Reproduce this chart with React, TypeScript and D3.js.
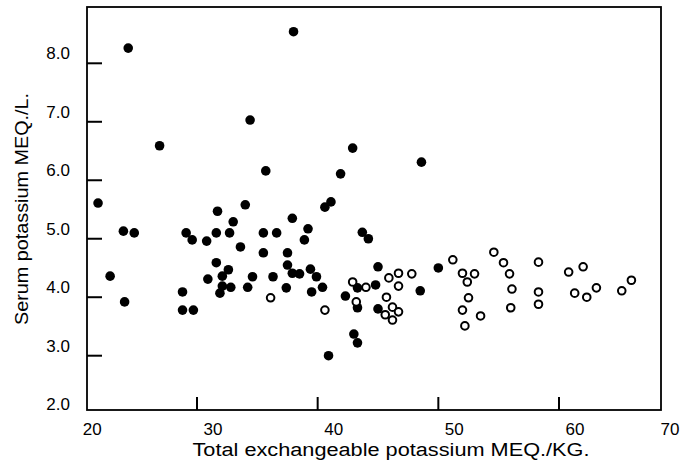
import React from "react";
import * as d3 from "d3";

// Filled circles: [total exchangeable K (MEQ/KG), serum K (MEQ/L)]
const filledX = [24.3, 38.0, 26.9, 34.4, 35.7, 41.9, 42.9, 48.6, 21.8, 41.1, 40.6, 34.0, 31.7, 37.9, 33.0, 39.2, 38.9, 23.9, 24.8, 29.1, 29.6, 30.8, 31.6, 32.7, 35.5, 36.6, 43.7, 44.2, 33.6, 35.5, 37.5, 31.6, 37.5, 32.6, 39.4, 45.0, 22.8, 30.9, 32.1, 34.6, 36.3, 37.9, 38.5, 39.9, 32.8, 34.2, 37.4, 40.4, 43.3, 44.8, 50.0, 48.5, 28.8, 31.9, 39.5, 42.3, 24.0, 28.8, 29.7, 43.3, 45.0, 43.0, 43.3, 40.9, 32.1];
const filledY = [8.26, 8.54, 6.59, 7.03, 6.16, 6.11, 6.55, 6.31, 5.61, 5.63, 5.54, 5.58, 5.47, 5.35, 5.29, 5.17, 4.98, 5.13, 5.10, 5.10, 4.98, 4.96, 5.10, 5.10, 5.10, 5.10, 5.11, 5.00, 4.86, 4.76, 4.76, 4.59, 4.55, 4.47, 4.48, 4.52, 4.36, 4.31, 4.36, 4.35, 4.35, 4.41, 4.40, 4.35, 4.17, 4.17, 4.16, 4.17, 4.16, 4.21, 4.50, 4.11, 4.09, 4.07, 4.09, 4.02, 3.92, 3.78, 3.78, 3.82, 3.80, 3.37, 3.22, 3.00, 4.19];

// Open circles
const openX = [36.1, 40.6, 42.9, 44.0, 43.2, 45.9, 46.7, 47.8, 46.7, 45.7, 46.2, 46.7, 45.6, 46.2, 51.2, 52.0, 53.0, 52.4, 52.5, 52.0, 53.5, 52.2, 54.6, 55.4, 55.9, 56.1, 56.0, 58.3, 58.3, 58.3, 60.8, 62.0, 61.3, 62.3, 63.1, 65.2, 66.0];
const openY = [3.99, 3.78, 4.26, 4.17, 3.92, 4.33, 4.41, 4.40, 4.19, 4.00, 3.83, 3.75, 3.70, 3.61, 4.64, 4.41, 4.40, 4.26, 3.99, 3.78, 3.68, 3.51, 4.77, 4.59, 4.40, 4.14, 3.82, 4.60, 4.09, 3.88, 4.43, 4.52, 4.07, 4.00, 4.16, 4.11, 4.29];

const xTickValues = [30, 40, 50, 60];
const xTickLabels = ["20", "30", "40", "50", "60", "70"];
const xLabelValues = [20, 30, 40, 50, 60, 70];
const yTickValues = [3, 4, 5, 6, 7, 8];
const yLabelValues = [2, 3, 4, 5, 6, 7, 8];
const yTickLabels = ["2.0", "3.0", "4.0", "5.0", "6.0", "7.0", "8.0"];

const xTitle = "Total exchangeable potassium MEQ./KG.";
const yTitle = "Serum potassium MEQ./L.";

export default function App() {
  const W = 681;
  const H = 467;
  const left = 87;
  const right = 661;
  const top = 7;
  const bottom = 410;

  const x = d3.scaleLinear().domain([30, 60]).range([197, 559]);
  const y = d3.scaleLinear().domain([3, 8]).range([355.7, 63.3]);

  const font = "'Liberation Sans', Arial, sans-serif";
  const filled = filledX.map((v, i) => [v, filledY[i]]);
  const open = openX.map((v, i) => [v, openY[i]]);

  return (
    <svg
      width={W}
      height={H}
      style={{ position: "absolute", left: 0, top: 0, background: "#fff" }}
    >
      <rect x={0} y={0} width={W} height={H} fill="#fff" />
      {/* frame */}
      <rect
        x={left}
        y={top}
        width={right - left}
        height={bottom - top}
        fill="none"
        stroke="#000"
        strokeWidth={1.8}
      />
      {/* y ticks (inward) */}
      {yTickValues.map((v) => (
        <line key={"yt" + v} x1={left} x2={left + 15} y1={y(v)} y2={y(v)} stroke="#000" strokeWidth={2} />
      ))}
      {/* x ticks (inward) */}
      {xTickValues.map((v) => (
        <line key={"xt" + v} x1={x(v)} x2={x(v)} y1={bottom} y2={bottom - 13} stroke="#000" strokeWidth={2} />
      ))}
      {/* y tick labels */}
      {yLabelValues.map((v, i) => (
        <text
          key={"yl" + v}
          x={70}
          y={y(v) - 10}
          dy="0.35em"
          textAnchor="end"
          fontFamily={font}
          fontSize={17}
          fill="#000"
        >
          {yTickLabels[i]}
        </text>
      ))}
      {/* x tick labels */}
      {xLabelValues.map((v, i) => (
        <text
          key={"xl" + v}
          x={Math.min(x(v) + 16, 670)}
          y={435}
          textAnchor="middle"
          fontFamily={font}
          fontSize={17}
          fill="#000"
        >
          {xTickLabels[i]}
        </text>
      ))}
      {/* axis titles */}
      <text
        x={391}
        y={456}
        textAnchor="middle"
        fontFamily={font}
        fontSize={18}
        textLength={397}
        lengthAdjust="spacingAndGlyphs"
        fill="#000"
      >
        {xTitle}
      </text>
      <text
        transform={`translate(28,209) rotate(-90)`}
        textAnchor="middle"
        fontFamily={font}
        fontSize={18}
        textLength={232}
        lengthAdjust="spacingAndGlyphs"
        fill="#000"
      >
        {yTitle}
      </text>
      {/* points */}
      {filled.map(([a, b], i) => (
        <circle key={"f" + i} cx={x(a)} cy={y(b)} r={4.8} fill="#000" />
      ))}
      {open.map(([a, b], i) => (
        <circle key={"o" + i} cx={x(a)} cy={y(b)} r={3.8} fill="#fff" stroke="#000" strokeWidth={2} />
      ))}
    </svg>
  );
}
